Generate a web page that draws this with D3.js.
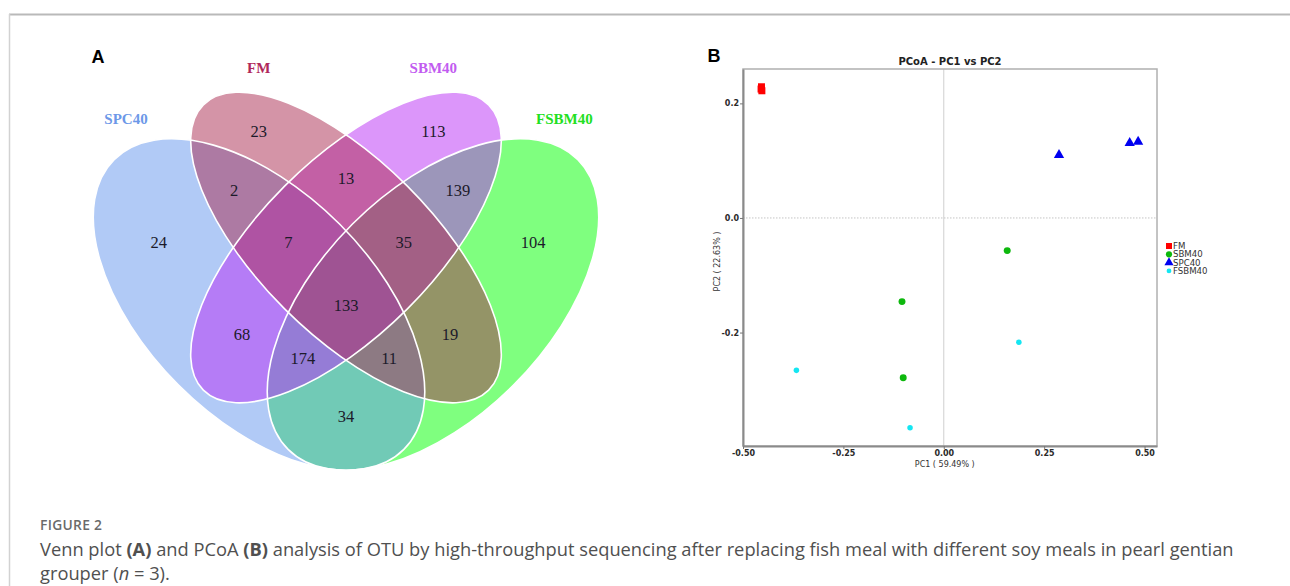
<!DOCTYPE html>
<html>
<head>
<meta charset="utf-8">
<script src="https://cdn.jsdelivr.net/npm/d3@7"></script>
<style>
  html, body { margin: 0; padding: 0; background: #fff; }
  svg { display: block; }
</style>
</head>
<body>
<svg id="fig"></svg>
<script>
let width = 1290
let height = 586

// ---- Venn data (A)
let vennSets = ['FSBM40', 'SPC40', 'SBM40', 'FM']
let vennRegions = ['FM', 'SBM40', 'SPC40&FM', 'FM&SBM40', 'SBM40&FSBM40',
                   'SPC40', 'SPC40&FM&SBM40', 'FM&SBM40&FSBM40', 'FSBM40', 'ALL',
                   'SPC40&SBM40', 'FM&FSBM40', 'SPC40&SBM40&FSBM40', 'SPC40&FM&FSBM40', 'SPC40&FSBM40']
let vennCounts = [23, 113, 2, 13, 139, 24, 7, 35, 104, 133, 68, 19, 174, 11, 34]

// ---- PCoA data (B)
let groups = ['FM', 'SBM40', 'SPC40', 'FSBM40']
let fmPC1 = [-0.454, -0.455, -0.453]
let fmPC2 = [0.229, 0.225, 0.222]
let sbmPC1 = [0.158, -0.104, -0.101]
let sbmPC2 = [-0.057, -0.146, -0.279]
let spcPC1 = [0.287, 0.463, 0.484]
let spcPC2 = [0.110, 0.131, 0.133]
let fsbmPC1 = [-0.367, 0.187, -0.084]
let fsbmPC2 = [-0.266, -0.217, -0.366]
let xTicks = [-0.5, -0.25, 0, 0.25, 0.5]
let yTicks = [-0.2, 0, 0.2]

let svg = d3.select('#fig').attr('width', width).attr('height', height)

// page frame
svg.append('line').attr('x1', 9).attr('x2', width).attr('y1', 14.5).attr('y2', 14.5)
    .attr('stroke', '#b9b9b9').attr('stroke-width', 2)
svg.append('line').attr('x1', 9.5).attr('x2', 9.5).attr('y1', 14).attr('y2', height)
    .attr('stroke', '#d2d2d2').attr('stroke-width', 1.5)

// ================= A : Venn =================
// unit layout space, y up
let vx = d3.scaleLinear().domain([0, 1]).range([86, 606])
let vy = d3.scaleLinear().domain([0, 1]).range([520, 0])
let vr = d3.scaleLinear().domain([0, 1]).range([0, 520])

let fillColor = {SPC40: '#6495ED', FM: '#A9294F', SBM40: '#B92DF5', FSBM40: '#00FF00'}
let labelColor = {SPC40: '#6C98E8', FM: '#B0285A', SBM40: '#C25CF0', FSBM40: '#22E022'}

let ellipseLayout = {
    FSBM40: {cx: 0.6673, cy: 0.4144, a: 0.394, b: 0.219, rot: -45},
    SPC40:  {cx: 0.3327, cy: 0.4144, a: 0.394, b: 0.219, rot: 45},
    SBM40:  {cx: 0.5,    cy: 0.524,  a: 0.388, b: 0.167, rot: -45},
    FM:     {cx: 0.5,    cy: 0.524,  a: 0.388, b: 0.167, rot: 45}
}
let setLabelPos = {
    SPC40: [0.077, 0.771], FM: [0.332, 0.869], SBM40: [0.668, 0.869], FSBM40: [0.92, 0.771]
}
let regionPos = [[0.332, 0.747], [0.668, 0.747], [0.285, 0.635], [0.5, 0.657], [0.715, 0.635],
                 [0.14, 0.535], [0.389, 0.535], [0.611, 0.535], [0.86, 0.535], [0.5, 0.413],
                 [0.3, 0.357], [0.7, 0.357], [0.417, 0.312], [0.583, 0.312], [0.5, 0.2]]

let venn = svg.append('g').attr('id', 'venn')

let ellAttr = (sel) => {
    sel.attr('transform', d => {
            let e = ellipseLayout[d]
            return 'translate(' + vx(e.cx) + ',' + vy(e.cy) + ') rotate(' + e.rot + ')'
        })
        .attr('rx', d => vr(ellipseLayout[d].a))
        .attr('ry', d => vr(ellipseLayout[d].b))
}

venn.selectAll('ellipse.fill')
    .data(vennSets)
    .enter()
    .append('ellipse')
    .attr('class', 'fill')
    .call(ellAttr)
    .attr('fill', d => fillColor[d])
    .attr('fill-opacity', 0.5)

venn.selectAll('ellipse.edge')
    .data(vennSets)
    .enter()
    .append('ellipse')
    .attr('class', 'edge')
    .call(ellAttr)
    .attr('fill', 'none')
    .attr('stroke', '#fff')
    .attr('stroke-width', 1.6)

venn.selectAll('text.setname')
    .data(vennSets)
    .enter()
    .append('text')
    .attr('class', 'setname')
    .attr('x', d => vx(setLabelPos[d][0]))
    .attr('y', d => vy(setLabelPos[d][1]))
    .attr('dy', '0.35em')
    .attr('text-anchor', 'middle')
    .attr('font-family', '"Liberation Serif", "Times New Roman", serif')
    .attr('font-weight', 'bold')
    .attr('font-size', 15)
    .attr('fill', d => labelColor[d])
    .text(d => d)

venn.selectAll('text.count')
    .data(vennCounts)
    .enter()
    .append('text')
    .attr('class', 'count')
    .attr('x', (d, i) => vx(regionPos[i][0]))
    .attr('y', (d, i) => vy(regionPos[i][1]))
    .attr('dy', '0.35em')
    .attr('text-anchor', 'middle')
    .attr('font-family', '"Liberation Serif", "Times New Roman", serif')
    .attr('font-size', 16.5)
    .attr('fill', '#1c1a2a')
    .text(d => d)

svg.append('text').attr('x', 98).attr('y', 57).attr('dy', '0.35em')
    .attr('text-anchor', 'middle')
    .attr('font-family', '"Liberation Sans", Arial, sans-serif')
    .attr('font-weight', 'bold').attr('font-size', 18)
    .text('A')

// ================= B : PCoA =================
let plotLeft = 743, plotRight = 1157, plotTop = 69, plotBottom = 446

let xScale = d3.scaleLinear().domain([-0.5, 0.531]).range([plotLeft, plotRight])
let yScale = d3.scaleLinear().domain([-0.398, 0.26]).range([plotBottom, plotTop])

let pcoa = svg.append('g').attr('id', 'pcoa')
let font = '"DejaVu Sans", Verdana, sans-serif'

// zero lines
pcoa.append('line')
    .attr('x1', xScale(0)).attr('x2', xScale(0))
    .attr('y1', plotTop).attr('y2', plotBottom)
    .attr('stroke', '#cfcfcf').attr('stroke-width', 1)
pcoa.append('line')
    .attr('x1', plotLeft).attr('x2', plotRight)
    .attr('y1', yScale(0)).attr('y2', yScale(0))
    .attr('stroke', '#c4c4c4').attr('stroke-width', 1)
    .attr('stroke-dasharray', '1.5,1.5')

// frame
pcoa.append('rect')
    .attr('x', plotLeft).attr('y', plotTop)
    .attr('width', plotRight - plotLeft).attr('height', plotBottom - plotTop)
    .attr('fill', 'none').attr('stroke', '#b0b0b0').attr('stroke-width', 1.5)

let xAxis = d3.axisBottom(xScale).tickValues(xTicks).tickFormat(d => d.toFixed(2))
                .tickSize(3).tickSizeOuter(0)
let yAxis = d3.axisLeft(yScale).tickValues(yTicks).tickFormat(d => d.toFixed(1))
                .tickSize(3).tickSizeOuter(0)

let gx = pcoa.append('g')
    .attr('transform', 'translate(0,' + plotBottom + ')')
    .call(xAxis)
let gy = pcoa.append('g')
    .attr('transform', 'translate(' + plotLeft + ',0)')
    .call(yAxis)

;[gx, gy].forEach(g => {
    g.attr('font-family', font).attr('font-size', 8)
    g.select('.domain').attr('stroke', '#8a8a8a').attr('stroke-width', 2)
    g.selectAll('.tick line').attr('stroke', '#777')
    g.selectAll('.tick text').attr('fill', '#2a2a2a').attr('font-weight', 'bold')
})
gx.selectAll('.tick text').attr('dy', '0.55em')
gy.selectAll('.tick text').attr('x', -4)

pcoa.append('text')
    .attr('x', (plotLeft + plotRight) / 2).attr('y', 61).attr('dy', '0.35em')
    .attr('text-anchor', 'middle')
    .attr('font-family', font).attr('font-weight', 'bold').attr('font-size', 10)
    .attr('fill', '#222')
    .text('PCoA - PC1 vs PC2')

pcoa.append('text')
    .attr('x', xScale(0) + 1).attr('y', 464).attr('dy', '0.35em')
    .attr('text-anchor', 'middle')
    .attr('font-family', font).attr('font-size', 8).attr('fill', '#333')
    .text('PC1 ( 59.49% )')

pcoa.append('text')
    .attr('transform', 'translate(717,' + ((plotTop + plotBottom) / 2 + 4) + ') rotate(-90)')
    .attr('dy', '0.35em')
    .attr('text-anchor', 'middle')
    .attr('font-family', font).attr('font-size', 8).attr('fill', '#333')
    .text('PC2 ( 22.63% )')

svg.append('text').attr('x', 714).attr('y', 56).attr('dy', '0.35em')
    .attr('text-anchor', 'middle')
    .attr('font-family', '"Liberation Sans", Arial, sans-serif')
    .attr('font-weight', 'bold').attr('font-size', 18)
    .text('B')

let groupStyle = {
    FM:     {color: '#FF0000', type: d3.symbolSquare,   size: 49, legSize: 36},
    SBM40:  {color: '#0DB80D', type: d3.symbolCircle,   size: 38, legSize: 30},
    SPC40:  {color: '#0000F0', type: d3.symbolTriangle, size: 46, legSize: 36},
    FSBM40: {color: '#14E6F2', type: d3.symbolCircle,   size: 24, legSize: 18}
}
let groupPC1 = [fmPC1, sbmPC1, spcPC1, fsbmPC1]
let groupPC2 = [fmPC2, sbmPC2, spcPC2, fsbmPC2]

let points = []
groups.forEach((g, gi) => {
    groupPC1[gi].forEach((v, i) => {
        points.push({group: g, pc1: v, pc2: groupPC2[gi][i]})
    })
})

pcoa.selectAll('path.pt')
    .data(points)
    .enter()
    .append('path')
    .attr('class', 'pt')
    .attr('d', d => d3.symbol().type(groupStyle[d.group].type).size(groupStyle[d.group].size)())
    .attr('transform', d => 'translate(' + xScale(d.pc1) + ',' + yScale(d.pc2) + ')')
    .attr('fill', d => groupStyle[d.group].color)

// legend
let legend = pcoa.append('g').attr('transform', 'translate(1169,246)')
let leg = legend.selectAll('g')
    .data(groups)
    .enter()
    .append('g')
    .attr('transform', (d, i) => 'translate(0,' + (i * 8.3) + ')')
leg.append('path')
    .attr('d', d => d3.symbol().type(groupStyle[d].type).size(groupStyle[d].legSize)())
    .attr('fill', d => groupStyle[d].color)
leg.append('text')
    .attr('x', 4).attr('dy', '0.36em')
    .attr('font-family', font).attr('font-size', 8.6).attr('fill', '#333')
    .text(d => d)

// ================= caption =================
let cap = svg.append('g').attr('font-family', '"Open Sans", "Noto Sans", sans-serif')
cap.append('text').attr('x', 40).attr('y', 530)
    .attr('font-size', 13.8).attr('font-weight', 600).attr('fill', '#6a6a6a')
    .attr('letter-spacing', 0.3)
    .text('FIGURE 2')

let line1 = cap.append('text').attr('x', 40).attr('y', 556)
    .attr('font-size', 18.3).attr('fill', '#505050')
line1.append('tspan').text('Venn plot ')
line1.append('tspan').attr('font-weight', 'bold').text('(A)')
line1.append('tspan').text(' and PCoA ')
line1.append('tspan').attr('font-weight', 'bold').text('(B)')
line1.append('tspan').text(' analysis of OTU by high-throughput sequencing after replacing fish meal with different soy meals in pearl gentian')

let line2 = cap.append('text').attr('x', 40).attr('y', 580)
    .attr('font-size', 18.3).attr('fill', '#505050')
line2.append('tspan').text('grouper (')
line2.append('tspan').attr('font-style', 'italic').text('n')
line2.append('tspan').text(' = 3).')
</script>
</body>
</html>
